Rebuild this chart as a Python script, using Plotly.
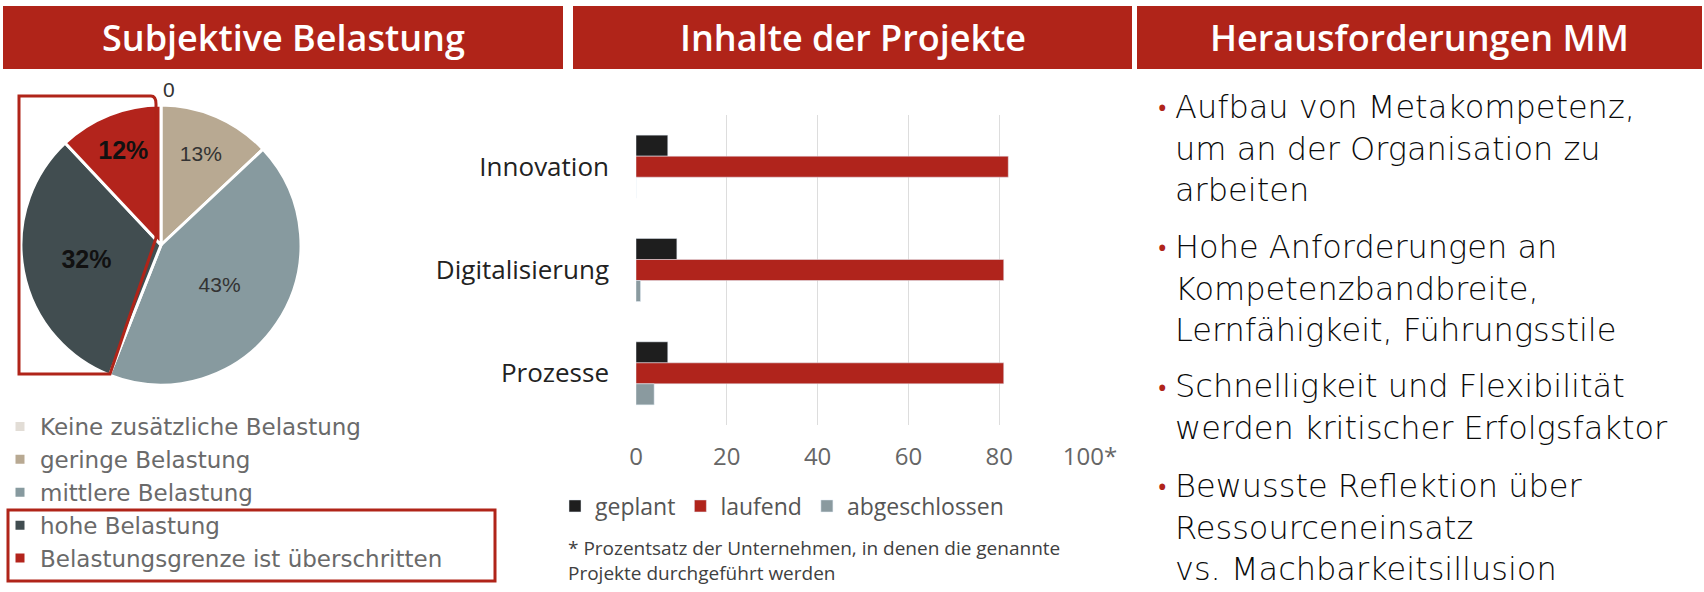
import plotly.graph_objects as go

W, H = 1704, 592
def px(x): return x / W
def py(y): return 1 - y / H

RED = "#B02419"

# ---------- data ----------
header_titles = ["Subjektive Belastung", "Inhalte der Projekte", "Herausforderungen MM"]

pie_labels = ["Keine zusätzliche Belastung", "geringe Belastung", "mittlere Belastung",
              "hohe Belastung", "Belastungsgrenze ist überschritten"]
pie_values = [0, 13, 43, 32, 12]
pie_colors = ["#E2DDD6", "#B8A992", "#879A9F", "#414D50", "#B3241C"]

categories = ["Innovation", "Digitalisierung", "Prozesse"]
geplant = [7, 9, 7]
laufend = [82, 81, 81]
abgeschlossen = [0, 1, 4]
bar_series = ["geplant", "laufend", "abgeschlossen"]
bar_colors = ["#1E1E1E", "#B0241C", "#8A9A9F"]
x_tickvals = [0, 20, 40, 60, 80, 100]
x_ticktext = ["0", "20", "40", "60", "80", "100*"]

footnote = "* Prozentsatz der Unternehmen, in denen die genannte<br>Projekte durchgeführt werden"

bullets = [
    ["Aufbau von Metakompetenz,", "um an der Organisation zu", "arbeiten"],
    ["Hohe Anforderungen an", "Kompetenzbandbreite,", "Lernfähigkeit, Führungsstile"],
    ["Schnelligkeit und Flexibilität", "werden kritischer Erfolgsfaktor"],
    ["Bewusste Reflektion über", "Ressourceneinsatz", "vs. Machbarkeitsillusion"],
]
bullet_centers = [148, 288, 407, 527]

fig = go.Figure()

# ---------- pie ----------
texttemplate = ["", "%{value}%", "%{value}%", "<b>%{value}%</b>", "<b>%{value}%</b>"]
fig.add_trace(go.Pie(
    labels=pie_labels, values=pie_values, sort=False, direction="clockwise", rotation=0,
    marker=dict(colors=pie_colors, line=dict(color="white", width=3)),
    texttemplate=texttemplate, textposition="inside", insidetextorientation="horizontal",
    textfont=dict(family="Liberation Sans, Arial", size=[20, 21, 21, 25, 25],
                  color=["#333", "#333", "#333", "#111", "#111"]),
    domain=dict(x=[px(21), px(301)], y=[py(385), py(105)]),
    hoverinfo="label+value", showlegend=True, legend="legend",
))

# ---------- bars ----------
for name, vals, col in zip(bar_series, [geplant, laufend, abgeschlossen], bar_colors):
    fig.add_trace(go.Bar(
        name=name, y=categories, x=vals, orientation="h", marker_color=col,
        xaxis="x", yaxis="y", legend="legend2",
    ))

shapes = []
annotations = []
# headers
header_x = [(3, 563), (573, 1132), (1137, 1702)]
for (x0, x1), t in zip(header_x, header_titles):
    shapes.append(dict(type="rect", xref="paper", yref="paper", x0=px(x0), x1=px(x1),
                       y0=py(69), y1=py(6), fillcolor=RED, line_width=0, layer="below"))
    annotations.append(dict(text=t, xref="paper", yref="paper", x=px((x0 + x1) / 2), y=py(38),
                            showarrow=False, xanchor="center", yanchor="middle",
                            font=dict(family="Open Sans", size=36, color="white", weight=600)))

# pie outline highlight
path = ("M {a},{b} L {c},{b} Q {d},{b} {d},{e} L {d},{f} L {g},{h} L {a},{h} Z").format(
    a=px(19), b=py(96), c=px(151), d=px(156), e=py(104), f=py(238), g=px(110), h=py(374))
shapes.append(dict(type="path", xref="paper", yref="paper", path=path,
                   line=dict(color=RED, width=3)))
# legend highlight box
shapes.append(dict(type="rect", xref="paper", yref="paper", x0=px(8), x1=px(495),
                   y0=py(581), y1=py(510), line=dict(color=RED, width=3)))

annotations.append(dict(text="0", xref="paper", yref="paper", x=px(161), y=py(76),
                        showarrow=False, font=dict(family="Liberation Sans, Arial", size=21, color="#333")))

annotations.append(dict(text=footnote, xref="paper", yref="paper", x=px(566), y=py(560),
                        xanchor="left", yanchor="middle", align="left", showarrow=False,
                        font=dict(family="Open Sans", size=19, color="#404040")))

for lines, yc in zip(bullets, bullet_centers):
    annotations.append(dict(text="<br>".join(lines), xref="paper", yref="paper", x=px(1173), y=py(yc),
                            xanchor="left", yanchor="middle", align="left", showarrow=False,
                            font=dict(family="DejaVu Sans", size=32, color="#0A0A0A", weight=200)))
    n = len(lines)
    first = yc - (n - 1) * 41.6 / 2
    annotations.append(dict(text="•", xref="paper", yref="paper", x=px(1162), y=py(first + 1),
                            xanchor="center", yanchor="middle", showarrow=False,
                            font=dict(family="Open Sans", size=28, color=RED)))

fig.update_layout(
    width=W, height=H, margin=dict(l=0, r=0, t=0, b=0, autoexpand=False),
    paper_bgcolor="white", plot_bgcolor="white",
    shapes=shapes, annotations=annotations,
    barmode="group", bargap=0.39, bargroupgap=0,
    xaxis=dict(domain=[px(636), px(1090)], range=[0, 100], tickvals=x_tickvals, ticktext=x_ticktext,
               showgrid=True, gridcolor="#DDDDDD", gridwidth=1, zeroline=False, showline=False,
               ticks="", ticklabelstandoff=15, anchor="y", automargin=False,
               tickfont=dict(family="Open Sans", size=24, color="#666666")),
    yaxis=dict(domain=[py(425), py(115)], categoryorder="array", categoryarray=categories,
               autorange="reversed", showgrid=False, zeroline=False, showline=False, ticks="",
               ticklabelstandoff=26, anchor="x", automargin=False,
               tickfont=dict(family="Open Sans", size=26, color="#222222")),
    legend=dict(x=0, y=py(405), xanchor="left", yanchor="top", orientation="v",
                font=dict(family="DejaVu Sans", size=23, color="#6A6A6A"), traceorder="normal",
                bgcolor="rgba(0,0,0,0)", itemclick=False),
    legend2=dict(x=px(555), y=py(506), xanchor="left", yanchor="middle", orientation="h",
                 font=dict(family="Open Sans", size=23, color="#555555"), traceorder="normal",
                 bgcolor="rgba(0,0,0,0)"),
)

fig.write_html("out.html", config={"displayModeBar": False},
               post_script="document.body.style.margin='0px';document.body.style.overflow='hidden';")
